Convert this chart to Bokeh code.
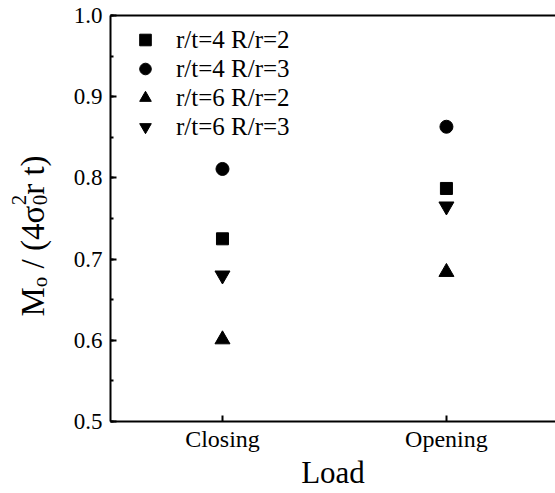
import math
from bokeh.plotting import figure
from bokeh.layouts import row
from bokeh.core.properties import value
from bokeh.models import (Range1d, LinearAxis, FixedTicker, SingleIntervalTicker,
                          NumeralTickFormatter, Legend, LegendItem)
from bokeh.embed import file_html
from bokeh.resources import INLINE

# Normalised moment for each load case and geometry
loads = ["Closing", "Opening"]
load_pos = [1, 2]
rt4_Rr2 = [0.725, 0.787]
rt4_Rr3 = [0.811, 0.863]
rt6_Rr2 = [0.601, 0.684]
rt6_Rr3 = [0.680, 0.765]
series_names = ["r/t=4 R/r=2", "r/t=4 R/r=3", "r/t=6 R/r=2", "r/t=6 R/r=3"]

FONT = "Liberation Serif"
W, H = 555, 493
TITLE_W = 70
FRAME_TOP, FRAME_BOTTOM = 15, 421

p = figure(width=W - TITLE_W, height=H, output_backend="svg", toolbar_location=None,
           x_range=Range1d(0.5, 2.487), y_range=Range1d(0.5, 1.0),
           x_axis_type=None, y_axis_type=None,
           min_border_left=110 - TITLE_W, min_border_right=0,
           min_border_top=FRAME_TOP, min_border_bottom=H - FRAME_BOTTOM)
p.outline_line_color = None
p.grid.visible = False

# left axis
yax = LinearAxis(ticker=SingleIntervalTicker(interval=0.1, num_minor_ticks=2),
                 formatter=NumeralTickFormatter(format="0.0"))
yax.axis_line_width = 2
yax.major_tick_in = 6
yax.major_tick_out = 0
yax.minor_tick_in = 3
yax.minor_tick_out = 0
yax.major_tick_line_width = 2
yax.minor_tick_line_width = 2
yax.major_label_text_font = FONT
yax.major_label_text_font_size = "23px"
yax.major_label_text_color = "black"
yax.major_label_standoff = 8
p.add_layout(yax, "left")

# bottom axis
xax = LinearAxis(ticker=FixedTicker(ticks=load_pos, minor_ticks=[]))
xax.major_label_overrides = {pos: name for pos, name in zip(load_pos, loads)}
xax.axis_line_width = 2
xax.major_tick_in = 6
xax.major_tick_out = 0
xax.major_tick_line_width = 2
xax.major_label_text_font = FONT
xax.major_label_text_font_size = "24px"
xax.major_label_text_color = "black"
xax.major_label_standoff = 4
xax.axis_label = "Load"
xax.axis_label_text_font = FONT
xax.axis_label_text_font_size = "31px"
xax.axis_label_text_font_style = "normal"
xax.axis_label_text_color = "black"
xax.axis_label_standoff = 0
p.add_layout(xax, "below")

# top frame line
tax = LinearAxis(ticker=FixedTicker(ticks=[]), major_label_text_font_size="0px")
tax.axis_line_width = 2
tax.major_tick_line_color = None
tax.minor_tick_line_color = None
p.add_layout(tax, "above")

r1 = p.scatter(load_pos, rt4_Rr2, marker="square", size=12, color="black")
r2 = p.scatter(load_pos, rt4_Rr3, marker="circle", size=13, color="black")
r3 = p.scatter(load_pos, rt6_Rr2, marker="triangle", size=15, color="black")
r4 = p.scatter(load_pos, rt6_Rr3, marker="inverted_triangle", size=15, color="black")

legend = Legend(items=[LegendItem(label=n, renderers=[r])
                       for n, r in zip(series_names, [r1, r2, r3, r4])],
                location=(20, 280), padding=5, margin=0, spacing=0,
                glyph_width=30, glyph_height=29, label_height=29,
                label_standoff=16, border_line_color=None,
                background_fill_alpha=0,
                label_text_font=FONT, label_text_font_size="25px",
                label_text_color="black")
p.add_layout(legend)

# Rotated y-axis title, set piece by piece for the sub/superscripts.
# The strip's frame lines up with the main frame (rows align frames), so its
# y range is chosen to make one data unit equal one canvas pixel: y = H - canvas_y.
t = figure(width=TITLE_W, height=H, output_backend="svg", toolbar_location=None,
           x_range=Range1d(0, TITLE_W), y_range=Range1d(H - FRAME_BOTTOM, H - FRAME_TOP),
           x_axis_type=None, y_axis_type=None,
           min_border_left=0, min_border_right=0,
           min_border_top=FRAME_TOP, min_border_bottom=H - FRAME_BOTTOM)
t.outline_line_color = None
t.grid.visible = False

main_fs, small_fs = 33, 21
base_x = 32
# (text, font size, advance in em, baseline shift, moves the pen)
pieces = [("M", main_fs, 0.889, 0, True),
          ("o", small_fs, 0.5, 7, True),
          ("", main_fs, 0.25, 0, True),          # word space before the slash
          ("/ (4\u03c3", main_fs, 1.911, 0, True),
          ("0", small_fs, 0.5, 7, False),
          ("2", small_fs, 0.5, -14, True),
          ("r t)", main_fs, 1.194, 0, True)]
cy = 316
for text, fs, adv, shift, advance in pieces:
    if text:
        t.text(x=[base_x + shift], y=[H - cy], text=[text], angle=math.pi / 2,
               text_font=value(FONT), text_font_size=f"{fs}px", text_color="black",
               text_align="left", text_baseline="alphabetic")
    if advance:
        cy -= adv * fs

layout = row(t, p, spacing=0)
open("out.html", "w").write(file_html(layout, INLINE))
